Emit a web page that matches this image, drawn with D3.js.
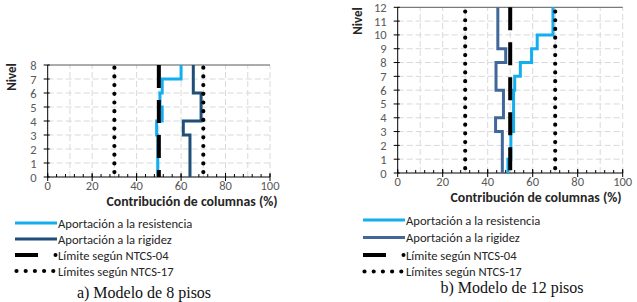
<!DOCTYPE html>
<html>
<head>
<meta charset="utf-8">
<script src="https://cdn.jsdelivr.net/npm/d3@7"></script>
<style>
  body { margin: 0; background: #fff; }
  svg { display: block; }
  .tick-lbl { font-family: Carlito, Calibri, Lato, sans-serif; font-size: 12.5px; fill: #595959; }
  .ttl { font-family: Carlito, Calibri, Lato, sans-serif; font-size: 13px; font-weight: bold; fill: #262626; }
  .ttl-x { font-size: 13.8px; }
  .leg { font-family: Carlito, Calibri, Lato, sans-serif; font-size: 12.6px; fill: #262626; }
  .cap { font-family: "Liberation Serif", "Times New Roman", serif; font-size: 16px; fill: #111; }
</style>
</head>
<body>
<div id="grafica"></div>
<script>
// ---- datos ----
const xTicks = [0, 20, 40, 60, 80, 100];
const niveles8 = [0, 1, 2, 3, 4, 5, 6, 7, 8];
const niveles12 = [0, 1, 2, 3, 4, 5, 6, 7, 8, 9, 10, 11, 12];

// valor por entrepiso (de nivel i a i+1)
const resistencia8 = [49.5, 49.5, 49.5, 49, 51.5, 50.5, 51.5, 60];
const rigidez8 = [64, 64, 64, 61, 69, 69, 65.5, 65.5];
const resistencia12 = [49, 50.3, 50.3, 51.5, 51.5, 51.5, 52, 54.5, 59.5, 62, 69, 69];
const rigidez12 = [46.5, 46.5, 46.5, 43.5, 47, 47, 43.7, 43.7, 48, 44.5, 44.5, 44.5];

const limite04 = [50];
const limites17 = [30, 70];

const leyenda = [
  "Aportación a la resistencia",
  "Aportación a la rigidez",
  "Límite según NTCS-04",
  "Límites según NTCS-17"
];

const width = 637;
const height = 302;

const svg = d3.select("#grafica")
  .append("svg")
  .attr("width", width)
  .attr("height", height);

const paneles = [
  {
    x0: 47.7, x1: 270, yTop: 65, yBot: 177,
    niveles: niveles8, resistencia: resistencia8, rigidez: rigidez8,
    colorRig: "#1f4e79",
    nivelLbl: [12, 77], tituloX: 192, tituloY: 206,
    legX: 15, legY: [223, 239, 255, 271],
    caption: "a) Modelo de 8 pisos", capX: 144, capY: 298
  },
  {
    x0: 397.7, x1: 622.7, yTop: 7.3, yBot: 173,
    niveles: niveles12, resistencia: resistencia12, rigidez: rigidez12,
    colorRig: "#41679a",
    nivelLbl: [358, 21], tituloX: 536, tituloY: 202,
    legX: 363, legY: [220, 237.5, 255, 271.5],
    caption: "b) Modelo de 12 pisos", capX: 512, capY: 293
  }
];

const azulClaro = "#13aeef";

paneles.forEach(p => {
  const nMax = p.niveles[p.niveles.length - 1];
  const x = d3.scaleLinear().domain([0, 100]).range([p.x0, p.x1]);
  const y = d3.scaleLinear().domain([0, nMax]).range([p.yBot, p.yTop]);

  const g = svg.append("g");

  // rejilla punteada
  g.selectAll("line.vg")
    .data(d3.range(10, 101, 10))
    .join("line")
    .attr("class", "vg")
    .attr("x1", d => x(d)).attr("x2", d => x(d))
    .attr("y1", y(0)).attr("y2", y(nMax))
    .attr("stroke", "#d9d9d9")
    .attr("stroke-dasharray", "6,3");

  g.selectAll("line.hg")
    .data(p.niveles.slice(1, -1))
    .join("line")
    .attr("class", "hg")
    .attr("x1", x(0)).attr("x2", x(100))
    .attr("y1", d => y(d)).attr("y2", d => y(d))
    .attr("stroke", "#d9d9d9")
    .attr("stroke-dasharray", "6,3");

  // borde superior
  g.append("line")
    .attr("x1", x(0)).attr("x2", x(100))
    .attr("y1", y(nMax)).attr("y2", y(nMax))
    .attr("stroke", "#595959");

  // eje x: ticks mayores cruzados, menores cada 4 hacia arriba
  const ejeX = g.append("g");
  ejeX.append("line")
    .attr("x1", x(0)).attr("x2", x(100))
    .attr("y1", y(0)).attr("y2", y(0))
    .attr("stroke", "#000");
  ejeX.selectAll("line.menor")
    .data(d3.range(0, 101, 4))
    .join("line")
    .attr("class", "menor")
    .attr("x1", d => x(d)).attr("x2", d => x(d))
    .attr("y1", y(0)).attr("y2", y(0) - 3)
    .attr("stroke", "#000");
  ejeX.selectAll("line.mayor")
    .data(xTicks)
    .join("line")
    .attr("class", "mayor")
    .attr("x1", d => x(d)).attr("x2", d => x(d))
    .attr("y1", y(0) - 4).attr("y2", y(0) + 4)
    .attr("stroke", "#000");
  ejeX.selectAll("text")
    .data(xTicks)
    .join("text")
    .attr("class", "tick-lbl")
    .attr("x", d => x(d))
    .attr("y", y(0) + 13)
    .attr("text-anchor", "middle")
    .text(d => d);

  // eje y
  const ejeY = g.append("g");
  ejeY.append("line")
    .attr("x1", x(0)).attr("x2", x(0))
    .attr("y1", y(0)).attr("y2", y(nMax))
    .attr("stroke", "#000");
  ejeY.selectAll("line.t")
    .data(p.niveles)
    .join("line")
    .attr("class", "t")
    .attr("x1", x(0) - 4).attr("x2", x(0) + 2)
    .attr("y1", d => y(d)).attr("y2", d => y(d))
    .attr("stroke", "#000");
  ejeY.selectAll("text")
    .data(p.niveles)
    .join("text")
    .attr("class", "tick-lbl")
    .attr("x", x(0) - 11)
    .attr("y", d => y(d) + 4.5)
    .attr("text-anchor", "end")
    .text(d => d);

  g.append("text")
    .attr("class", "ttl")
    .attr("transform", `translate(${p.nivelLbl[0] + 4},${p.nivelLbl[1]}) rotate(-90)`)
    .attr("text-anchor", "middle")
    .text("Nivel");

  g.append("text")
    .attr("class", "ttl ttl-x")
    .attr("x", p.tituloX)
    .attr("y", p.tituloY)
    .attr("text-anchor", "middle")
    .text("Contribución de columnas (%)");

  // curvas escalonadas por entrepiso
  const escalon = vals => vals.flatMap((v, i) => [[v, i], [v, i + 1]]);
  const linea = d3.line().x(d => x(d[0])).y(d => y(d[1]));

  g.append("path")
    .attr("d", linea(escalon(p.resistencia)))
    .attr("fill", "none")
    .attr("stroke", azulClaro)
    .attr("stroke-width", 3);

  g.append("path")
    .attr("d", linea(escalon(p.rigidez)))
    .attr("fill", "none")
    .attr("stroke", p.colorRig)
    .attr("stroke-width", 3);

  g.selectAll("line.l04")
    .data(limite04)
    .join("line")
    .attr("class", "l04")
    .attr("x1", d => x(d)).attr("x2", d => x(d))
    .attr("y1", y(nMax)).attr("y2", y(0))
    .attr("stroke", "#000")
    .attr("stroke-width", 4)
    .attr("stroke-dasharray", "23,12");

  g.selectAll("line.l17")
    .data(limites17)
    .join("line")
    .attr("class", "l17")
    .attr("x1", d => x(d)).attr("x2", d => x(d))
    .attr("y1", y(0.35)).attr("y2", y(nMax))
    .attr("stroke", "#000")
    .attr("stroke-width", 4.2)
    .attr("stroke-linecap", "round")
    .attr("stroke-dasharray", "0,8.7");

  // leyenda
  const leg = g.append("g");
  const lx = p.legX, lw = 42;
  leg.append("line")
    .attr("x1", lx).attr("x2", lx + lw)
    .attr("y1", p.legY[0]).attr("y2", p.legY[0])
    .attr("stroke", azulClaro).attr("stroke-width", 3);
  leg.append("line")
    .attr("x1", lx).attr("x2", lx + lw)
    .attr("y1", p.legY[1]).attr("y2", p.legY[1])
    .attr("stroke", p.colorRig).attr("stroke-width", 3);
  leg.append("line")
    .attr("x1", lx).attr("x2", lx + lw)
    .attr("y1", p.legY[2]).attr("y2", p.legY[2])
    .attr("stroke", "#000").attr("stroke-width", 4)
    .attr("stroke-dasharray", "23,16,0.01,10")
    .attr("stroke-linecap", "butt");
  leg.append("circle")
    .attr("cx", lx + lw - 1.5).attr("cy", p.legY[2])
    .attr("r", 2);
  leg.append("line")
    .attr("x1", lx + 1.5).attr("x2", lx + lw)
    .attr("y1", p.legY[3]).attr("y2", p.legY[3])
    .attr("stroke", "#000").attr("stroke-width", 4.2)
    .attr("stroke-linecap", "round")
    .attr("stroke-dasharray", "0,9.2");
  leg.selectAll("text")
    .data(leyenda)
    .join("text")
    .attr("class", "leg")
    .attr("x", lx + lw + 1)
    .attr("y", (d, i) => p.legY[i] + 4.5)
    .text(d => d);

  g.append("text")
    .attr("class", "cap")
    .attr("x", p.capX)
    .attr("y", p.capY)
    .attr("text-anchor", "middle")
    .text(p.caption);
});
</script>
</body>
</html>
